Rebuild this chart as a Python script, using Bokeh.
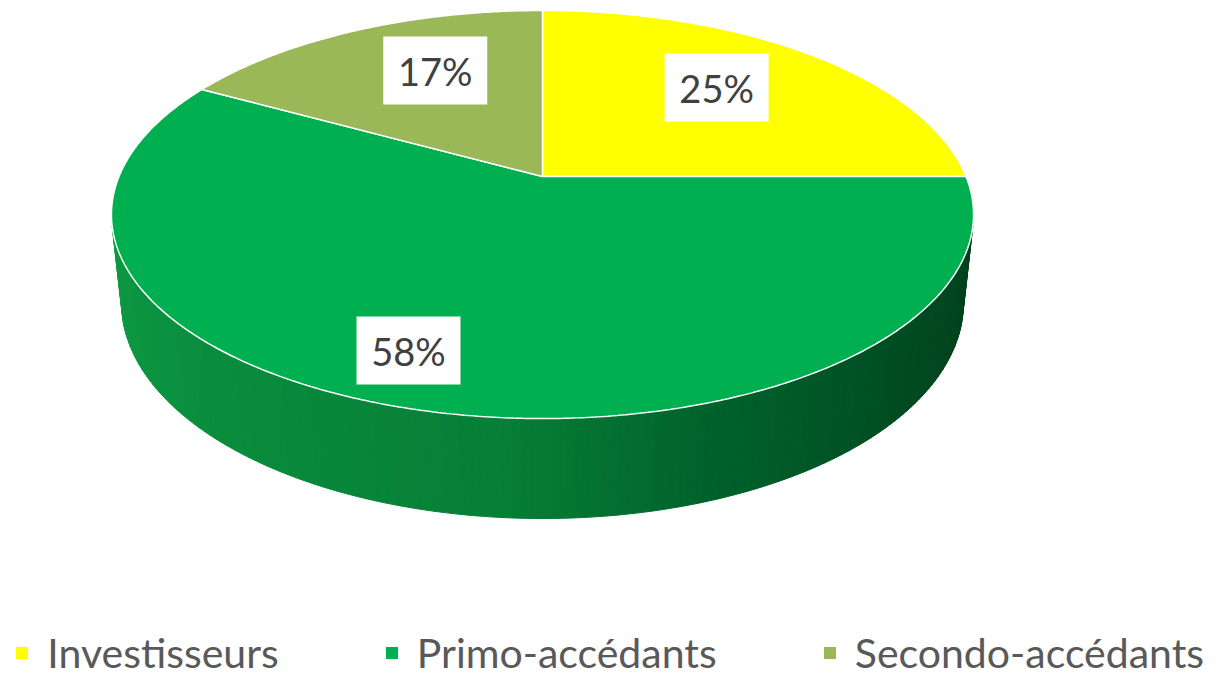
import numpy as np
from bokeh.plotting import figure
from bokeh.models import Range1d, Legend, LegendItem
from bokeh.core.properties import value
from bokeh.embed import file_html
from bokeh.resources import INLINE

# ---- data ----
categories = ["Investisseurs", "Primo-accédants", "Secondo-accédants"]
shares = [25, 58, 17]
labels = ["25%", "58%", "17%"]
colors = ["#FFFF00", "#00B050", "#9AB857"]

# ---- layout / projection constants ----
W, H = 1229, 684
CX, CY = 542.0, 176.0
S = 0.465
C = np.sqrt(1 - S * S)
D = 5.367 * C
F = 166.0 * (D + C) / S
T = 0.2383
label_r = [0.667, 0.806, 0.661]
label_dtheta = [-2.7, 5.3, 5.4]

side_stops_deg = [104, 130, 160, 185, 220, 256]
side_stops_col = ["#003F1B", "#004A21", "#00612A", "#077F36", "#098C3C", "#0C9943"]


def project(theta, r=1.0, y=0.0):
    X = r * np.sin(theta)
    Z = r * np.cos(theta)
    yc = y * C + Z * S
    zc = Z * C - y * S + D
    return CX + F * X / zc, CY - F * yc / zc


def hex2rgb(h):
    return np.array([int(h[i:i + 2], 16) for i in (1, 3, 5)], dtype=float)


def side_color(deg):
    rgbs = np.array([hex2rgb(c) for c in side_stops_col])
    rgb = [np.interp(deg, side_stops_deg, rgbs[:, k]) for k in range(3)]
    return "#%02x%02x%02x" % tuple(int(round(v)) for v in rgb)


p = figure(width=W, height=H, output_backend="svg", toolbar_location=None,
           x_range=Range1d(0, W), y_range=Range1d(H, 0), min_border=0,
           background_fill_color="white", border_fill_color="white")
p.axis.visible = False
p.grid.visible = False
p.outline_line_color = None

cum = np.concatenate([[0], np.cumsum(shares)]) / float(sum(shares)) * 2 * np.pi
vis_lo = np.arccos(-1.0 / (D * C))
vis_hi = 2 * np.pi - vis_lo

# sides (front-facing part only)
sx, sy, sc = [], [], []
for i in range(len(shares)):
    a, b = max(cum[i], vis_lo), min(cum[i + 1], vis_hi)
    if b <= a:
        continue
    n = int(np.ceil(np.degrees(b - a))) + 1
    th = np.linspace(a, b, n)
    for k in range(n - 1):
        t0, t1 = th[k], th[k + 1]
        x0, y0 = project(t0)
        x1, y1 = project(t1)
        bx0, by0 = project(t0, y=-T)
        bx1, by1 = project(t1, y=-T)
        sx.append([x0, x1, bx1, bx0])
        sy.append([y0, y1, by1, by0])
        sc.append(side_color(np.degrees(0.5 * (t0 + t1))))
p.patches(sx, sy, fill_color=sc, line_color=sc, line_width=1)

# tops
tops = []
for i in range(len(shares)):
    n = int(np.ceil(np.degrees(cum[i + 1] - cum[i]))) * 2 + 2
    th = np.linspace(cum[i], cum[i + 1], n)
    ax, ay = project(th)
    xs = np.concatenate([[CX], ax, [CX]])
    ys = np.concatenate([[CY], ay, [CY]])
    r = p.patch(xs, ys, fill_color=colors[i], line_color="white", line_width=1.5)
    tops.append(r)

# labels
lx, ly = [], []
for i in range(len(shares)):
    mid = 0.5 * (cum[i] + cum[i + 1]) + np.radians(label_dtheta[i])
    x, y = project(mid, r=label_r[i])
    lx.append(float(x))
    ly.append(float(y))
p.rect(x=lx, y=ly, width=104, height=68, fill_color="white", line_color=None)
p.text(x=lx, y=ly, text=labels, text_align="center", text_baseline="middle",
       text_font=value("Lato"), text_font_size="38px", text_color="#404040")

legend = Legend(items=[LegendItem(label=value(categories[i]), renderers=[tops[i]]) for i in range(3)],
                orientation="horizontal", location=(13.3, 7), padding=0, margin=0, spacing=104,
                glyph_width=17, glyph_height=17, label_standoff=17,
                label_text_font="Lato", label_text_font_size="41px", label_text_color="#595959",
                border_line_color=None, background_fill_alpha=0)
p.add_layout(legend, "center")

open("out.html", "w").write(file_html(p, INLINE))
